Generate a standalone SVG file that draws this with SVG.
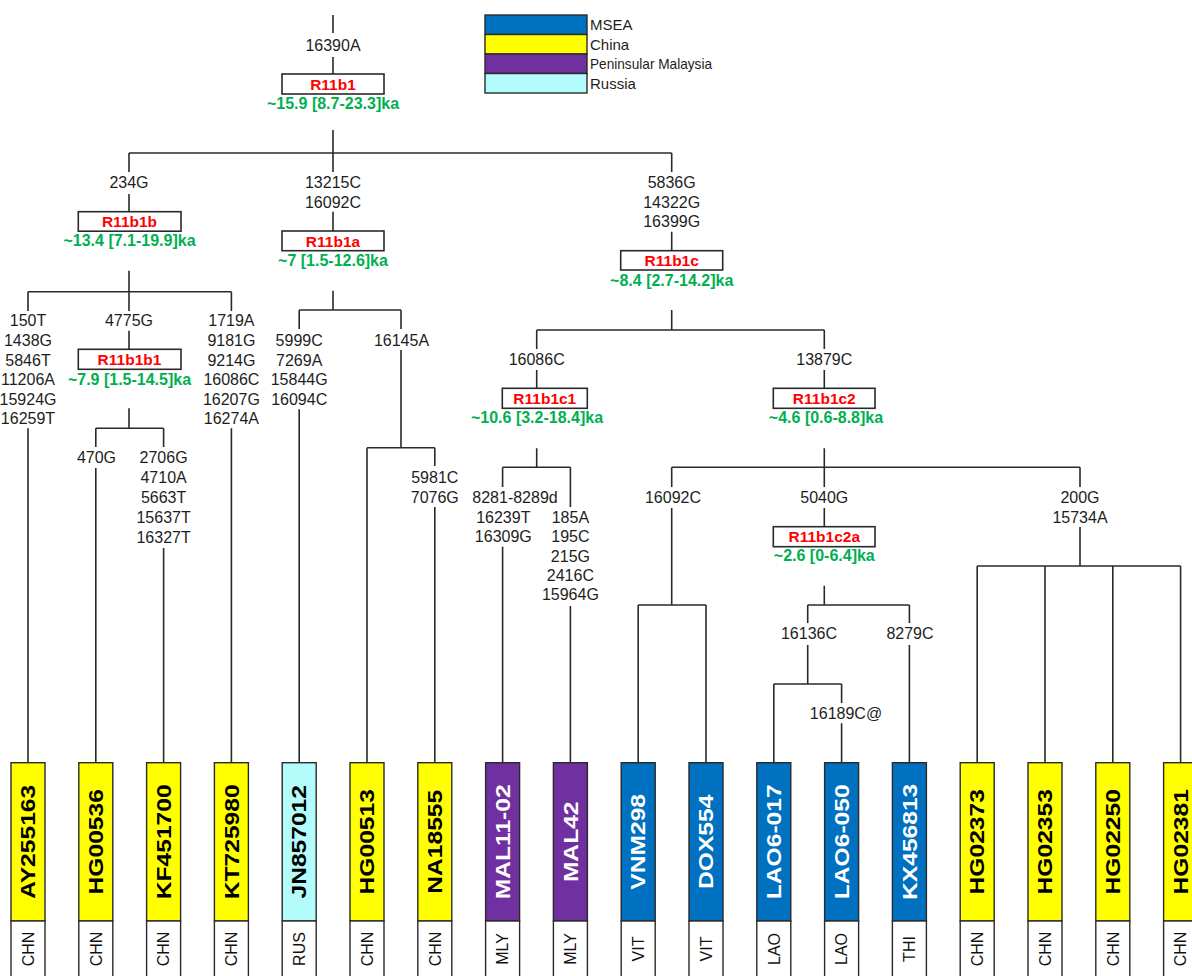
<svg xmlns="http://www.w3.org/2000/svg" width="1192" height="976" viewBox="0 0 1192 976">
<style>
.bg{fill:#fff}
.ln{fill:none;stroke:#2a2a2a;stroke-width:1.6}
.hb{fill:#fff;stroke:#2a2a2a;stroke-width:1.6}
.m{font-family:"Liberation Sans",Arial,sans-serif;font-size:16px;fill:#1e1e1e;text-anchor:middle}
.h{font-family:"Liberation Sans",Arial,sans-serif;font-size:15.5px;font-weight:bold;fill:#ff0000;text-anchor:middle}
.a{font-family:"Liberation Sans",Arial,sans-serif;font-size:16px;font-weight:bold;fill:#00b050;text-anchor:middle}
.lg{font-family:"Liberation Sans",Arial,sans-serif;font-size:15px;fill:#1e1e1e}
.lf{font-family:"Liberation Sans",Arial,sans-serif;font-size:20px;font-weight:bold;text-anchor:middle}
.cc{font-family:"Liberation Sans",Arial,sans-serif;font-size:16px;fill:#111;text-anchor:middle}
.bx{stroke:#2a2a2a;stroke-width:1.4}
.cn{fill:#ffff00}.ru{fill:#b4fcfc}.ml{fill:#7030a0}.ms{fill:#0070c0}.wh{fill:#fff}
.dk{fill:#000}.lt{fill:#fff}
</style>
<rect class="bg" x="0" y="0" width="1192" height="976"/>

<g id="legend">
<rect class="bx ms" x="485" y="15" width="102" height="19.5"/>
<rect class="bx cn" x="485" y="34.5" width="102" height="19.5"/>
<rect class="bx ml" x="485" y="54" width="102" height="19.5"/>
<rect class="bx ru" x="485" y="73.5" width="102" height="19.5"/>
<text class="lg" x="590" y="30">MSEA</text>
<text class="lg" x="590" y="49.5">China</text>
<text class="lg" x="590" y="69" textLength="122" lengthAdjust="spacingAndGlyphs">Peninsular Malaysia</text>
<text class="lg" x="590" y="88.5">Russia</text>
</g>

<g id="connectors">
<path class="ln" d="M333 15V33M333 57V74M333 130V153M129 153H671.7"/>
<path class="ln" d="M129 153V172M129 194V211.7M129 270.7V291.7M28 291.7H231.4M28 291.7V311M28 428.3V762.7M129 291.7V311M129 330.7V349.3M129 408.3V428.3M95.8 428.3H163.6M95.8 428.3V447M95.8 468V762.7M163.6 428.3V447M163.6 548V762.7M231.4 291.7V311M231.4 428.3V762.7"/>
<path class="ln" d="M333 153V172M333 211.7V231M333 290.7V310M299.2 310H401M299.2 310V329M299.2 409.3V762.7M401 310V329M401 350V447.7M367 447.7H434.8M367 447.7V762.7M434.8 447.7V466M434.8 507V762.7"/>
<path class="ln" d="M671.7 153V172M671.7 231.7V250.7M671.7 310V330M536.7 330H824.3M536.7 330V349M536.7 370V388.3M536.7 448.3V467.3M502.6 467.3H570.4M502.6 467.3V487M502.6 546.7V762.7M570.4 467.3V507M570.4 606V762.7"/>
<path class="ln" d="M824.3 330V349M824.3 370V388.3M824.3 448.3V467.3M671.7 467.3H1080M671.7 467.3V487M671.7 508V605M638.2 605H706M638.2 605V762.7M706 605V762.7M824.3 467.3V487M824.3 508V526.7M824.3 585.7V605M807.7 605H909.4M807.7 605V623M807.7 645V684M773.8 684H841.6M773.8 684V762.7M841.6 684V703M841.6 723.3V762.7M909.4 605V623M909.4 645V762.7M1080 467.3V487M1080 527V566M977.2 566H1180.6M977.2 566V762.7M1045 566V762.7M1112.8 566V762.7M1180.6 566V762.7"/>
</g>

<g id="mutations">
<text class="m" x="333" y="51">16390A</text>
<text class="m" x="129" y="187.5">234G</text>
<text class="m" x="333" y="187.5">13215C</text>
<text class="m" x="333" y="207.5">16092C</text>
<text class="m" x="671.7" y="187.5">5836G</text>
<text class="m" x="671.7" y="207.5">14322G</text>
<text class="m" x="671.7" y="226.5">16399G</text>
<text class="m" x="28" y="326">150T</text>
<text class="m" x="28" y="345.8">1438G</text>
<text class="m" x="28" y="365.5">5846T</text>
<text class="m" x="28" y="385">11206A</text>
<text class="m" x="28" y="404.5">15924G</text>
<text class="m" x="28" y="424">16259T</text>
<text class="m" x="129" y="326">4775G</text>
<text class="m" x="231.4" y="326.3">1719A</text>
<text class="m" x="231.4" y="345.8">9181G</text>
<text class="m" x="231.4" y="365.5">9214G</text>
<text class="m" x="231.4" y="385">16086C</text>
<text class="m" x="231.4" y="404.5">16207G</text>
<text class="m" x="231.4" y="424">16274A</text>
<text class="m" x="96.5" y="462.5">470G</text>
<text class="m" x="163.6" y="462.5">2706G</text>
<text class="m" x="163.6" y="482.5">4710A</text>
<text class="m" x="163.6" y="502.5">5663T</text>
<text class="m" x="163.6" y="522.5">15637T</text>
<text class="m" x="163.6" y="542.5">16327T</text>
<text class="m" x="299.2" y="345.8">5999C</text>
<text class="m" x="299.2" y="365.8">7269A</text>
<text class="m" x="299.2" y="385">15844G</text>
<text class="m" x="299.2" y="404.5">16094C</text>
<text class="m" x="401.5" y="345.8">16145A</text>
<text class="m" x="434.8" y="482.5">5981C</text>
<text class="m" x="434.8" y="502.5">7076G</text>
<text class="m" x="536.7" y="364.8">16086C</text>
<text class="m" x="824.3" y="364.8">13879C</text>
<text class="m" x="515" y="502.5">8281-8289d</text>
<text class="m" x="503.3" y="522.5">16239T</text>
<text class="m" x="503.3" y="541.8">16309G</text>
<text class="m" x="570.4" y="522.5">185A</text>
<text class="m" x="570.4" y="541.8">195C</text>
<text class="m" x="570.4" y="561.5">215G</text>
<text class="m" x="570.4" y="580.8">2416C</text>
<text class="m" x="570.4" y="600.3">15964G</text>
<text class="m" x="673" y="502.5">16092C</text>
<text class="m" x="824.3" y="502.5">5040G</text>
<text class="m" x="1080" y="502.5">200G</text>
<text class="m" x="1080" y="522.5">15734A</text>
<text class="m" x="809" y="639">16136C</text>
<text class="m" x="910" y="639">8279C</text>
<text class="m" x="846" y="719">16189C@</text>
</g>

<g id="R11b1">
<rect class="hb" x="282" y="74" width="102" height="20"/>
<text class="h" x="333" y="89.5">R11b1</text>
<text class="a" x="333" y="108.5">~15.9 [8.7-23.3]ka</text>
</g>
<g id="R11b1b">
<rect class="hb" x="78.3" y="211.7" width="102.7" height="19.5"/>
<text class="h" x="129.5" y="227">R11b1b</text>
<text class="a" x="129.5" y="245.8">~13.4 [7.1-19.9]ka</text>
</g>
<g id="R11b1a">
<rect class="hb" x="282" y="231" width="102" height="19.7"/>
<text class="h" x="333" y="246.5">R11b1a</text>
<text class="a" x="333" y="265.8">~7 [1.5-12.6]ka</text>
</g>
<g id="R11b1c">
<rect class="hb" x="620.7" y="250.7" width="102" height="19.3"/>
<text class="h" x="671.7" y="265.8">R11b1c</text>
<text class="a" x="671.7" y="285.8">~8.4 [2.7-14.2]ka</text>
</g>
<g id="R11b1b1">
<rect class="hb" x="78.3" y="349.3" width="102.7" height="20"/>
<text class="h" x="129.5" y="364.8">R11b1b1</text>
<text class="a" x="129.5" y="385">~7.9 [1.5-14.5]ka</text>
</g>
<g id="R11b1c1">
<rect class="hb" x="502.3" y="388.3" width="85" height="20"/>
<text class="h" x="544.8" y="403.8">R11b1c1</text>
<text class="a" x="537" y="423">~10.6 [3.2-18.4]ka</text>
</g>
<g id="R11b1c2">
<rect class="hb" x="773.3" y="388.3" width="101.7" height="20"/>
<text class="h" x="824.3" y="403.8">R11b1c2</text>
<text class="a" x="826" y="423">~4.6 [0.6-8.8]ka</text>
</g>
<g id="R11b1c2a">
<rect class="hb" x="773.3" y="526.7" width="101.7" height="20"/>
<text class="h" x="824.3" y="542.2">R11b1c2a</text>
<text class="a" x="824.3" y="561.4">~2.6 [0-6.4]ka</text>
</g>

<g id="leaf-AY255163"><rect class="bx cn" x="11" y="762.7" width="34" height="158.3"/><rect class="bx wh" x="11" y="921" width="34" height="60"/><text class="lf dk" transform="translate(35.2,841.8) rotate(-90) scale(1.23,1)">AY255163</text><text class="cc" transform="translate(33.7,949) rotate(-90)">CHN</text></g>
<g id="leaf-HG00536"><rect class="bx cn" x="78.8" y="762.7" width="34" height="158.3"/><rect class="bx wh" x="78.8" y="921" width="34" height="60"/><text class="lf dk" transform="translate(103,841.8) rotate(-90) scale(1.23,1)">HG00536</text><text class="cc" transform="translate(101.5,949) rotate(-90)">CHN</text></g>
<g id="leaf-KF451700"><rect class="bx cn" x="146.6" y="762.7" width="34" height="158.3"/><rect class="bx wh" x="146.6" y="921" width="34" height="60"/><text class="lf dk" transform="translate(170.8,841.8) rotate(-90) scale(1.23,1)">KF451700</text><text class="cc" transform="translate(169.3,949) rotate(-90)">CHN</text></g>
<g id="leaf-KT725980"><rect class="bx cn" x="214.4" y="762.7" width="34" height="158.3"/><rect class="bx wh" x="214.4" y="921" width="34" height="60"/><text class="lf dk" transform="translate(238.6,841.8) rotate(-90) scale(1.23,1)">KT725980</text><text class="cc" transform="translate(237.1,949) rotate(-90)">CHN</text></g>
<g id="leaf-JN857012"><rect class="bx ru" x="282.2" y="762.7" width="34" height="158.3"/><rect class="bx wh" x="282.2" y="921" width="34" height="60"/><text class="lf dk" transform="translate(306.4,841.8) rotate(-90) scale(1.23,1)">JN857012</text><text class="cc" transform="translate(304.9,949) rotate(-90)">RUS</text></g>
<g id="leaf-HG00513"><rect class="bx cn" x="350" y="762.7" width="34" height="158.3"/><rect class="bx wh" x="350" y="921" width="34" height="60"/><text class="lf dk" transform="translate(374.2,841.8) rotate(-90) scale(1.23,1)">HG00513</text><text class="cc" transform="translate(372.7,949) rotate(-90)">CHN</text></g>
<g id="leaf-NA18555"><rect class="bx cn" x="417.8" y="762.7" width="34" height="158.3"/><rect class="bx wh" x="417.8" y="921" width="34" height="60"/><text class="lf dk" transform="translate(442,841.8) rotate(-90) scale(1.23,1)">NA18555</text><text class="cc" transform="translate(440.5,949) rotate(-90)">CHN</text></g>
<g id="leaf-MAL11-02"><rect class="bx ml" x="485.6" y="762.7" width="34" height="158.3"/><rect class="bx wh" x="485.6" y="921" width="34" height="60"/><text class="lf lt" transform="translate(509.8,841.8) rotate(-90) scale(1.23,1)">MAL11-02</text><text class="cc" transform="translate(508.3,949) rotate(-90)">MLY</text></g>
<g id="leaf-MAL42"><rect class="bx ml" x="553.4" y="762.7" width="34" height="158.3"/><rect class="bx wh" x="553.4" y="921" width="34" height="60"/><text class="lf lt" transform="translate(577.6,841.8) rotate(-90) scale(1.23,1)">MAL42</text><text class="cc" transform="translate(576.1,949) rotate(-90)">MLY</text></g>
<g id="leaf-VNM298"><rect class="bx ms" x="621.2" y="762.7" width="34" height="158.3"/><rect class="bx wh" x="621.2" y="921" width="34" height="60"/><text class="lf lt" transform="translate(645.4,841.8) rotate(-90) scale(1.23,1)">VNM298</text><text class="cc" transform="translate(643.9,949) rotate(-90)">VIT</text></g>
<g id="leaf-DOX554"><rect class="bx ms" x="689" y="762.7" width="34" height="158.3"/><rect class="bx wh" x="689" y="921" width="34" height="60"/><text class="lf lt" transform="translate(713.2,841.8) rotate(-90) scale(1.23,1)">DOX554</text><text class="cc" transform="translate(711.7,949) rotate(-90)">VIT</text></g>
<g id="leaf-LAO6-017"><rect class="bx ms" x="756.8" y="762.7" width="34" height="158.3"/><rect class="bx wh" x="756.8" y="921" width="34" height="60"/><text class="lf lt" transform="translate(781,841.8) rotate(-90) scale(1.23,1)">LAO6-017</text><text class="cc" transform="translate(779.5,949) rotate(-90)">LAO</text></g>
<g id="leaf-LAO6-050"><rect class="bx ms" x="824.6" y="762.7" width="34" height="158.3"/><rect class="bx wh" x="824.6" y="921" width="34" height="60"/><text class="lf lt" transform="translate(848.8,841.8) rotate(-90) scale(1.23,1)">LAO6-050</text><text class="cc" transform="translate(847.3,949) rotate(-90)">LAO</text></g>
<g id="leaf-KX456813"><rect class="bx ms" x="892.4" y="762.7" width="34" height="158.3"/><rect class="bx wh" x="892.4" y="921" width="34" height="60"/><text class="lf lt" transform="translate(916.6,841.8) rotate(-90) scale(1.23,1)">KX456813</text><text class="cc" transform="translate(915.1,949) rotate(-90)">THI</text></g>
<g id="leaf-HG02373"><rect class="bx cn" x="960.2" y="762.7" width="34" height="158.3"/><rect class="bx wh" x="960.2" y="921" width="34" height="60"/><text class="lf dk" transform="translate(984.4,841.8) rotate(-90) scale(1.23,1)">HG02373</text><text class="cc" transform="translate(982.9,949) rotate(-90)">CHN</text></g>
<g id="leaf-HG02353"><rect class="bx cn" x="1028" y="762.7" width="34" height="158.3"/><rect class="bx wh" x="1028" y="921" width="34" height="60"/><text class="lf dk" transform="translate(1052.2,841.8) rotate(-90) scale(1.23,1)">HG02353</text><text class="cc" transform="translate(1050.7,949) rotate(-90)">CHN</text></g>
<g id="leaf-HG02250"><rect class="bx cn" x="1095.8" y="762.7" width="34" height="158.3"/><rect class="bx wh" x="1095.8" y="921" width="34" height="60"/><text class="lf dk" transform="translate(1120,841.8) rotate(-90) scale(1.23,1)">HG02250</text><text class="cc" transform="translate(1118.5,949) rotate(-90)">CHN</text></g>
<g id="leaf-HG02381"><rect class="bx cn" x="1163.6" y="762.7" width="34" height="158.3"/><rect class="bx wh" x="1163.6" y="921" width="34" height="60"/><text class="lf dk" transform="translate(1187.8,841.8) rotate(-90) scale(1.23,1)">HG02381</text><text class="cc" transform="translate(1186.3,949) rotate(-90)">CHN</text></g>
</svg>
